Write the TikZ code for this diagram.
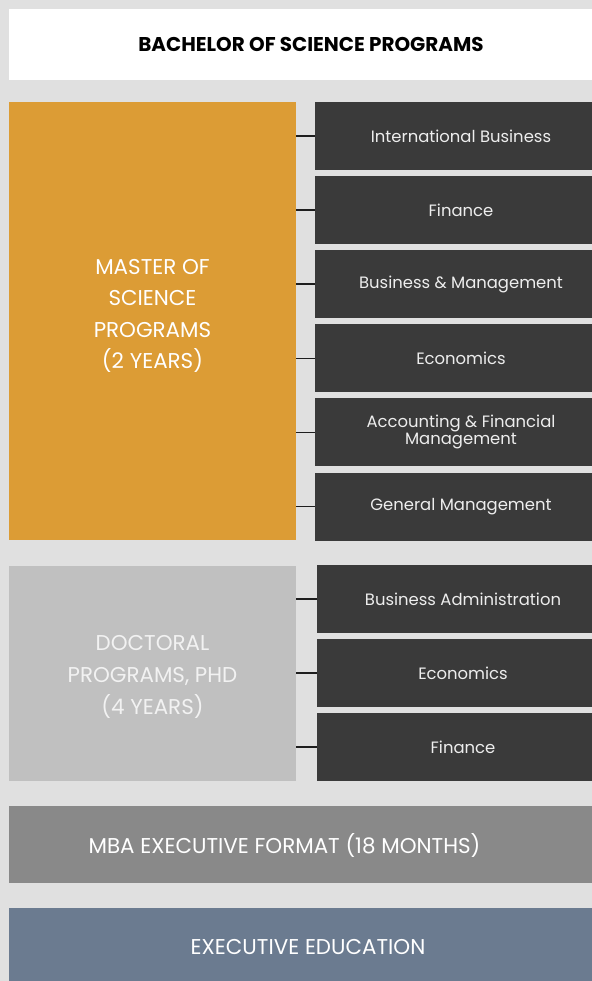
\documentclass[tikz,border=0pt]{standalone}
\usepackage{fontspec}
\setmainfont{Poppins}
\definecolor{bgc}{HTML}{E0E0E0}
\definecolor{orangec}{HTML}{DC9C35}
\definecolor{darkc}{HTML}{3A3A3A}
\definecolor{docc}{HTML}{C0C0C0}
\definecolor{mbac}{HTML}{898989}
\definecolor{execc}{HTML}{6B7B90}
\definecolor{connc}{HTML}{1E1E1E}
\begin{document}
\begin{tikzpicture}[x=1bp,y=-1bp,
  blk/.style={anchor=north west, inner sep=0pt, outer sep=0pt, draw=none},
  sub/.style={blk, fill=darkc, minimum width=292bp, minimum height=68bp},
  subtxt/.style={text=white!93!black, font=\fontsize{16.5}{17}\selectfont, align=center, inner sep=0pt},
  bigtxt/.style={text=white, font=\fontsize{21.5}{31.7}\selectfont, align=center, inner sep=0pt},
  conn/.style={draw=connc, line width=1.6bp}]
\useasboundingbox[fill=bgc] (0,0) rectangle (592,981);
% top
\node[blk, fill=white, minimum width=604bp, minimum height=71bp] (bsp) at (9,9) {};
\node[font=\bfseries\fontsize{20}{22}\selectfont, inner sep=0pt] (bspt) at (311,44.5) {BACHELOR OF SCIENCE PROGRAMS};
% master
\node[blk, fill=orangec, minimum width=287bp, minimum height=438bp] (ms) at (9,102) {};
\node[bigtxt] (mst) at (152.5,316) {MASTER OF\\SCIENCE\\PROGRAMS\\(2 YEARS)};
\foreach \n/\t [count=\i from 0] in {ib/International Business, fi/Finance, bm/Business \& Management, ec/Economics, af/{Accounting \& Financial\\Management}, gm/General Management}{
  \node[sub] (\n) at (315,102+74.1*\i) {};
  \node[subtxt] (\n t) at (461,136+74.1*\i) {\t};
  \draw[conn] (ms.east |- \n.west) -- (\n.west);
}
% doctoral
\node[blk, fill=docc, minimum width=287bp, minimum height=215bp] (dp) at (9,566) {};
\node[bigtxt, text=white!95!black] (dpt) at (152.5,677) {DOCTORAL\\PROGRAMS, PHD\\(4 YEARS)};
\foreach \n/\t [count=\i from 0] in {ba/Business Administration, de/Economics, df/Finance}{
  \node[sub] (\n) at (317,565+74*\i) {};
  \node[subtxt] (\n t) at (463,599+74*\i) {\t};
  \draw[conn] (dp.east |- \n.west) -- (\n.west);
}
% mba
\node[blk, fill=mbac, minimum width=583bp, minimum height=77bp] (mba) at (9,806) {};
\node[bigtxt] (mbat) at (284.5,845) {MBA EXECUTIVE FORMAT (18 MONTHS)};
% exec
\node[blk, fill=execc, minimum width=583bp, minimum height=75bp] (ee) at (9,908) {};
\node[bigtxt] (eet) at (308,947) {EXECUTIVE EDUCATION};
\end{tikzpicture}
\end{document}
